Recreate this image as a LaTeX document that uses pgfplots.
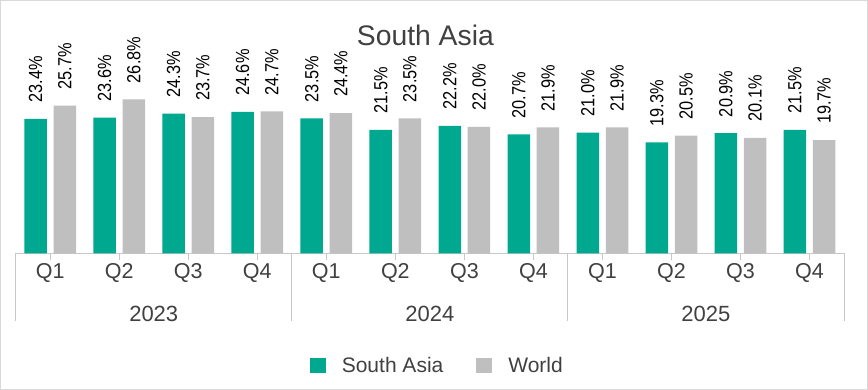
\documentclass[border=0pt]{standalone}
\usepackage{pgfplots}
\pgfplotsset{compat=1.18}
\usepackage{fontspec}
\setmainfont{Liberation Sans}
\definecolor{teal1}{HTML}{00A88F}
\definecolor{gray1}{HTML}{BFBFBF}
\definecolor{txt}{HTML}{404040}
\definecolor{lines}{HTML}{C8C8C8}
\definecolor{frame}{HTML}{D9D9D9}
\pgfplotstableread{
x sa world
0 23.4 25.7
1 23.6 26.8
2 24.3 23.7
3 24.6 24.7
4 23.5 24.4
5 21.5 23.5
6 22.2 22.0
7 20.7 21.9
8 21.0 21.9
9 19.3 20.5
10 20.9 20.1
11 21.5 19.7
}\datatable
\begin{document}
\begin{tikzpicture}
\draw[frame, line width=1bp] (0.5bp,0.5bp) rectangle (867.5bp,389.5bp);
\begin{axis}[
  at={(15.7bp,136.7bp)}, anchor=south west,
  scale only axis, width=828.3bp, height=229.8bp,
  xmin=-0.5, xmax=11.5, ymin=0, ymax=40,
  clip=false,
  /pgf/number format/assume math mode=true,
  ybar, bar width=22.5bp,
  axis x line=bottom, axis y line=none,
  axis line style={-, draw=lines, line width=1bp},
  xtick={0,...,11},
  xticklabels={Q1,Q2,Q3,Q4,Q1,Q2,Q3,Q4,Q1,Q2,Q3,Q4},
  xtick style={draw=lines, line width=1bp},
  tick align=outside, major tick length=7bp,
  xticklabel style={anchor=north, inner sep=0pt, yshift=-3bp, font=\fontsize{21.5bp}{21.5bp}\selectfont, text=txt},
  ytick=\empty,
  title={South Asia},
  title style={at={(0.4946,1)}, anchor=north, inner sep=0pt, yshift=-7.5bp, font=\fontsize{28.3bp}{28.3bp}\selectfont, text=txt},
  nodes near coords={\rotatebox{90}{\scalebox{0.86}[1]{\pgfmathprintnumber[fixed,fixed zerofill,precision=1,assume math mode=true]{\pgfplotspointmeta}\%}}},
  every node near coord/.append style={inner sep=0pt, yshift=16bp, font=\fontsize{19bp}{19bp}\selectfont, text=black},
  legend columns=2,
  legend image code/.code={\fill[#1] (0bp,-7.5bp) rectangle (16bp,7.5bp);},
  legend style={at={(0.509,0)}, anchor=center, yshift=-112.2bp, draw=none, fill=none,
    font=\fontsize{21bp}{21bp}\selectfont, text=txt,
    /tikz/every odd column/.append style={column sep=14bp},
    /tikz/every even column/.append style={column sep=31bp}},
]
\addplot[fill=teal1, draw=none, bar shift=-14.6bp] table[x=x, y=sa] {\datatable};
\addlegendentry{South Asia}
\addplot[fill=gray1, draw=none, bar shift=14.6bp] table[x=x, y=world] {\datatable};
\addlegendentry{World}
\foreach \s in {-0.5,3.5,7.5,11.5} {
  \edef\tmp{\noexpand\draw[lines, line width=1bp] (axis cs:\s,0) -- ++(0bp,-68bp);}
  \tmp
}
\node[anchor=north, inner sep=0pt, font=\fontsize{22bp}{22bp}\selectfont, text=txt] at ([yshift=-52.7bp]axis cs:1.5,0) {2023};
\node[anchor=north, inner sep=0pt, font=\fontsize{22bp}{22bp}\selectfont, text=txt] at ([yshift=-52.7bp]axis cs:5.5,0) {2024};
\node[anchor=north, inner sep=0pt, font=\fontsize{22bp}{22bp}\selectfont, text=txt] at ([yshift=-52.7bp]axis cs:9.5,0) {2025};
\end{axis}
\pgfresetboundingbox
\useasboundingbox (0bp,0bp) rectangle (868bp,390bp);
\end{tikzpicture}
\end{document}
